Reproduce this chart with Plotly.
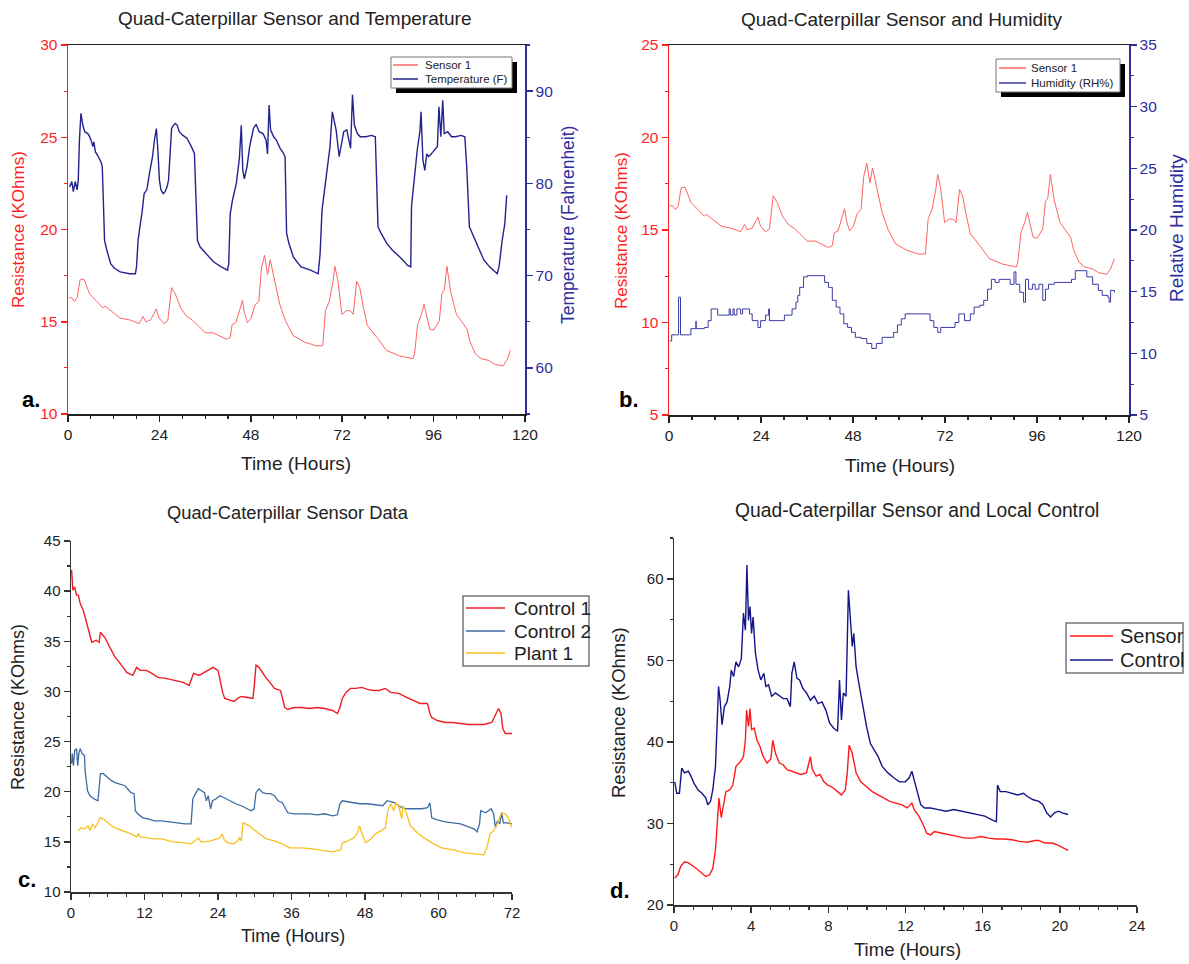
import plotly.graph_objects as go

# ---------------- DATA ----------------
# Sensor 1 resistance (KOhms) vs time (hours) -- panels a and b
sensor1 = [(0.2,16.3),(1.0,16.3),(1.7,16.1),(2.4,16.3),(3.2,17.3),(4.2,17.3),(5.7,16.5),(7.2,16.2),
 (9.2,15.75),(9.7,15.85),(11.2,15.6),(13.7,15.2),(16.2,15.1),(18.2,14.95),(18.7,14.9),(19.7,15.3),
 (20.4,15.0),(21.7,15.1),(23.2,15.7),(23.9,15.2),(25.2,14.9),(26.2,15.05),(27.2,16.85),(28.2,16.5),
 (29.6,15.75),(31.1,15.3),(32.6,15.1),(34.1,14.8),(36.1,14.4),(38.1,14.4),(40.1,14.2),(41.6,14.05),
 (42.6,14.15),(43.1,14.85),(44.1,14.95),(45.1,15.6),(45.8,16.15),(46.3,15.5),(47.1,14.95),(48.1,15.2),
 (49.1,15.9),(50.1,16.1),(50.8,17.9),(51.6,18.6),(52.4,17.55),(53.1,18.35),(54.1,17.4),(55.6,15.95),
 (57.1,15.05),(59.1,14.25),(62.1,13.9),(65.1,13.7),(66.9,13.7),(67.6,15.6),(68.6,16.1),(69.6,17.2),
 (70.1,18.0),(70.9,17.2),(71.9,15.4),(73.1,15.6),(74.1,15.6),(74.9,15.4),(75.8,17.2),(76.6,16.85),
 (77.6,15.75),(78.6,14.8),(81.1,14.15),(83.6,13.45),(87.1,13.15),(90.6,13.0),(91.0,13.25),(91.8,14.85),
 (92.8,15.4),(93.5,15.95),(94.0,15.5),(95.0,14.6),(96.0,14.55),(97.5,15.05),(98.2,16.55),(98.8,16.7),
 (99.5,18.0),(100.5,16.6),(102.0,15.4),(103.5,14.95),(104.8,14.6),(105.5,13.95),(107.0,13.25),
 (108.5,13.0),(110.5,12.9),(112.0,12.7),(114.2,12.6),(115.2,12.9),(116.2,13.45)]

# Temperature (F) -- panel a
temperature = [(0.4,79.6),(1.0,80.2),(1.4,79.1),(1.9,80.2),(2.4,79.3),(2.7,80.35),(3.0,84.7),(3.4,87.6),
 (3.9,86.3),(4.4,85.6),(5.2,85.4),(5.7,85.05),(6.2,84.5),(6.5,84.0),(6.8,84.5),(7.2,83.4),(7.7,83.1),
 (8.2,82.7),(8.7,82.3),(9.0,81.8),(9.2,78.2),(9.6,73.8),(10.2,72.75),(11.2,71.3),(12.2,70.8),(13.7,70.4),
 (16.2,70.2),(17.7,70.2),(18.0,71.0),(18.4,73.8),(19.0,75.65),(19.4,76.7),(20.0,78.9),(20.7,79.3),
 (21.4,81.1),(22.2,82.9),(22.7,84.7),(23.2,85.95),(23.6,83.6),(24.0,80.35),(24.4,79.3),(25.0,78.9),
 (25.5,79.1),(26.0,79.6),(26.4,80.35),(26.8,83.6),(27.2,85.95),(27.7,86.3),(28.2,86.5),(28.7,86.3),
 (29.2,85.6),(30.2,85.2),(31.2,84.9),(32.2,84.15),(32.7,83.6),(33.2,83.25),(33.5,79.6),(34.0,73.8),
 (34.7,73.1),(36.2,72.4),(38.2,71.5),(40.2,70.95),(41.9,70.6),(42.2,71.3),(42.6,76.7),(43.2,78.2),
 (44.2,80.0),(45.0,82.7),(45.5,86.3),(45.9,81.4),(46.3,80.5),(47.0,81.8),(47.7,84.0),(48.7,85.95),
 (49.4,86.4),(50.2,85.6),(51.2,85.4),(52.0,84.7),(52.4,83.2),(52.8,88.5),(53.2,85.8),(54.0,85.05),
 (54.7,84.7),(55.7,83.8),(56.4,83.4),(57.0,82.9),(57.4,74.6),(58.0,73.5),(59.2,72.0),(61.2,70.95),
 (63.7,70.6),(65.7,70.2),(66.2,72.4),(66.7,77.1),(67.4,79.6),(68.2,81.8),(68.8,84.0),(69.4,87.75),
 (69.9,86.85),(70.4,85.8),(70.9,84.0),(71.2,82.9),(71.7,84.0),(72.4,85.6),(73.2,85.8),(73.7,84.7),
 (74.2,83.8),(74.7,89.6),(75.2,86.3),(76.0,85.4),(76.7,85.05),(78.2,85.05),(79.7,85.2),(80.7,85.05),
 (81.0,79.6),(81.4,75.3),(82.2,74.6),(83.7,73.5),(85.2,72.75),(87.2,72.0),(89.2,71.1),(90.0,70.95),
 (90.2,77.5),(90.7,79.6),(91.2,81.8),(91.7,83.6),(92.4,85.6),(92.7,87.75),(93.2,82.5),(93.7,81.4),
 (94.2,83.2),(94.7,82.9),(95.4,83.2),(96.2,83.6),(97.0,84.0),(97.4,88.3),(97.9,85.05),(98.4,89.0),
 (98.8,85.4),(99.7,85.6),(100.7,85.05),(101.7,85.05),(103.2,85.2),(104.2,85.05),(104.7,81.8),
 (105.4,75.3),(106.2,74.6),(107.7,73.1),(109.2,71.7),(110.7,70.95),(112.7,70.2),(113.2,71.0),
 (114.0,73.8),(114.7,75.65),(115.2,78.7)]

# Relative humidity (RH%) -- panel b (step data)
humidity = [(0.2,11.0),(0.7,11.5),(2.0,11.5),(2.5,14.55),(3.0,11.5),(5.7,12.0),(7.0,12.6),(7.1,12.0),
 (9.2,12.1),(10.2,12.65),(11.0,13.6),(12.7,13.1),(15.7,13.6),(16.0,13.1),(16.7,13.6),(17.0,13.1),
 (17.7,13.6),(18.7,13.2),(19.2,13.6),(21.0,13.2),(21.7,12.65),(23.2,12.1),(23.9,12.65),(25.2,13.1),
 (26.0,13.6),(26.2,12.65),(30.1,13.1),(32.1,13.6),(33.1,14.15),(33.6,14.7),(34.1,15.35),(35.1,16.2),
 (36.1,16.3),(40.6,15.75),(41.6,15.35),(42.6,14.3),(43.6,13.75),(44.6,13.2),(45.6,12.4),(46.6,12.1),
 (47.6,11.7),(48.6,11.3),(50.1,11.2),(51.6,10.8),(52.9,10.4),(54.1,10.8),(55.6,11.3),(58.6,11.7),
 (59.6,12.3),(60.6,12.8),(61.6,13.2),(67.1,13.2),(68.1,12.65),(69.1,12.1),(70.1,11.7),(70.9,12.1),
 (74.6,12.5),(75.6,13.2),(77.1,12.65),(78.6,13.2),(79.6,13.75),(81.1,13.9),(82.1,14.3),(83.1,15.2),
 (84.1,16.0),(85.1,15.75),(86.1,16.0),(89.0,15.6),(90.0,16.6),(90.5,15.6),(91.5,14.95),(92.5,14.15),
 (93.0,16.0),(93.8,15.2),(94.8,15.6),(95.5,15.2),(96.5,15.6),(97.5,14.3),(98.2,15.2),(99.0,15.6),
 (100.5,15.75),(105.0,16.0),(106.0,16.7),(109.0,16.2),(110.5,15.6),(112.0,15.1),(113.0,14.7),
 (114.5,14.55),(114.8,14.15),(115.2,15.1),(116.2,14.95)]

# Panel c: Control 1, Control 2, Plant 1 (KOhms vs hours)
control1 = [(0.1,42.1),(0.3,40.1),(0.6,40.4),(0.9,39.6),(1.2,39.6),(1.5,38.8),(2.0,38.1),(2.3,37.4),
 (2.7,36.4),(3.1,35.4),(3.4,34.9),(4.1,35.1),(4.6,34.9),(4.8,35.9),(5.2,35.6),(5.5,35.4),(6.0,34.8),
 (6.6,34.1),(7.2,33.4),(7.9,32.9),(8.5,32.4),(9.1,31.9),(10.1,31.6),(10.7,32.4),(11.3,32.1),(12.3,32.1),
 (13.2,31.8),(14.2,31.4),(15.5,31.3),(16.7,31.1),(18.3,30.9),(19.3,30.6),(19.6,31.1),(20.0,31.8),
 (20.9,31.6),(21.8,31.9),(22.8,32.3),(23.2,32.4),(24.0,32.1),(24.3,31.1),(24.8,29.8),(25.1,29.3),
 (25.9,29.1),(26.6,29.0),(27.2,29.3),(27.8,29.5),(28.8,29.4),(29.7,29.3),(29.9,30.4),(30.2,32.6),
 (30.7,32.4),(31.3,31.8),(31.9,31.3),(32.6,30.8),(33.2,30.3),(34.2,30.1),(34.5,29.4),(34.9,28.4),
 (35.4,28.2),(36.4,28.4),(37.6,28.4),(38.9,28.3),(40.2,28.4),(41.4,28.3),(42.7,28.1),(43.5,27.8),
 (43.9,28.4),(44.3,29.3),(44.9,29.9),(45.6,30.3),(46.5,30.3),(47.5,30.4),(48.4,30.2),(49.4,30.1),
 (50.3,30.1),(51.3,30.3),(52.2,29.9),(53.5,29.8),(54.8,29.4),(56.0,29.1),(57.0,28.8),(58.2,28.8),
 (58.6,27.8),(58.9,27.4),(59.8,27.1),(61.1,26.9),(62.4,26.9),(63.6,26.8),(64.9,26.7),(66.2,26.7),
 (67.4,26.7),(68.7,26.9),(69.3,27.6),(69.8,28.3),(70.2,27.8),(70.5,26.3),(70.9,25.8),(72.0,25.8)]

control2 = [(0.1,22.8),(0.2,23.8),(0.4,22.6),(0.6,24.1),(0.9,24.3),(1.1,22.6),(1.3,23.9),(1.5,24.3),
 (1.8,23.8),(2.2,23.6),(2.3,22.1),(2.7,20.1),(3.1,19.6),(3.7,19.3),(4.4,19.1),(4.6,20.4),(4.8,21.8),
 (5.3,21.8),(6.0,21.4),(6.6,21.1),(7.2,20.9),(7.9,20.8),(8.8,20.6),(9.8,19.9),(10.3,19.8),(10.5,18.1),
 (10.9,17.8),(11.7,17.4),(12.6,17.3),(13.6,17.1),(14.8,17.1),(16.1,17.0),(17.4,16.9),(18.6,16.8),
 (19.6,16.8),(19.9,19.3),(20.4,19.9),(20.8,20.3),(21.3,20.1),(21.8,19.9),(22.1,19.1),(22.4,19.6),
 (22.8,18.3),(23.1,19.1),(23.7,19.3),(24.3,19.6),(25.0,19.4),(25.9,19.1),(26.9,18.8),(27.8,18.6),
 (28.8,18.3),(29.4,18.1),(29.9,18.3),(30.2,19.9),(30.7,20.3),(31.3,19.9),(31.9,19.8),(32.6,19.8),
 (33.2,19.6),(33.8,19.1),(34.5,18.9),(35.1,18.3),(35.4,17.9),(36.4,17.8),(37.6,17.8),(38.9,17.8),
 (40.2,17.7),(41.4,17.8),(42.7,17.6),(43.5,17.7),(43.9,18.8),(44.3,19.1),(45.2,19.0),(46.2,18.9),
 (47.1,18.8),(48.4,18.8),(49.7,18.7),(50.9,18.6),(51.6,19.1),(52.2,19.0),(52.9,18.9),(53.5,18.6),
 (54.1,18.4),(54.8,18.3),(56.0,18.3),(57.3,18.3),(58.2,18.4),(58.6,18.9),(58.9,17.4),(59.8,17.2),
 (61.1,17.0),(62.4,16.9),(63.6,16.8),(64.9,16.5),(65.8,16.3),(66.3,16.0),(66.7,16.8),(66.9,18.1),
 (67.7,17.9),(68.6,18.3),(69.0,17.8),(69.3,16.4),(69.6,17.1),(70.0,16.8),(70.3,17.9),(70.6,16.9),
 (71.2,16.9),(72.0,16.8)]

plant1 = [(1.2,16.1),(1.6,16.4),(2.2,16.3),(2.8,16.6),(3.1,16.1),(3.5,16.8),(3.9,16.4),(4.4,16.9),
 (4.7,17.4),(5.3,17.3),(6.0,16.9),(6.6,16.6),(7.2,16.4),(8.5,16.1),(9.8,15.8),(10.7,15.5),(11.0,15.8),
 (11.3,15.5),(12.3,15.4),(13.6,15.3),(14.8,15.3),(16.7,15.0),(18.6,14.9),(19.6,14.8),(20.2,15.1),
 (20.8,15.4),(21.2,15.0),(21.8,15.0),(22.8,15.1),(23.7,15.3),(24.3,15.4),(24.7,15.8),(25.0,15.2),
 (25.6,14.9),(26.6,14.8),(27.2,15.1),(27.5,15.4),(27.8,15.1),(28.1,16.9),(28.5,16.8),(29.1,16.6),
 (29.7,16.3),(30.7,15.8),(31.9,15.3),(33.2,15.1),(34.5,14.8),(35.7,14.4),(37.6,14.4),(39.5,14.3),
 (41.4,14.1),(42.7,14.0),(44.0,14.2),(44.3,14.9),(45.2,15.1),(46.2,15.4),(46.8,15.9),(47.1,16.6),
 (47.5,15.8),(48.1,14.9),(49.0,15.3),(49.7,15.8),(50.6,16.1),(51.3,16.4),(51.8,18.3),(52.2,18.8),
 (52.7,18.1),(53.0,18.9),(53.5,18.6),(54.0,17.3),(54.2,18.6),(54.8,17.8),(55.4,16.6),(56.7,15.8),
 (57.9,15.3),(59.2,14.8),(60.5,14.4),(62.4,14.2),(64.3,13.9),(66.2,13.8),(67.4,13.7),(67.9,14.4),
 (68.4,15.8),(69.0,16.1),(69.6,16.8),(70.3,17.9),(70.9,17.8),(71.4,17.4),(71.7,16.8),(72.0,16.4)]

# Panel d: Sensor and Control (KOhms vs hours)
control_d = [(0.04,35.1),(0.14,33.7),(0.28,33.7),(0.4,36.8),(0.54,36.2),(0.74,36.4),(0.88,35.8),
 (1.04,34.9),(1.25,34.1),(1.45,33.7),(1.65,33.1),(1.75,32.3),(1.89,32.7),(2.01,34.1),(2.15,37.0),
 (2.25,42.7),(2.31,46.8),(2.39,45.1),(2.49,42.1),(2.61,44.3),(2.75,44.9),(2.89,46.8),(2.97,48.8),
 (3.09,48.0),(3.21,49.8),(3.35,49.2),(3.49,50.2),(3.6,55.8),(3.7,53.7),(3.78,61.7),(3.86,54.9),
 (3.94,56.6),(4.02,53.3),(4.1,55.3),(4.22,50.9),(4.36,48.8),(4.5,47.6),(4.66,48.4),(4.76,46.8),
 (4.9,47.0),(5.06,45.6),(5.26,46.0),(5.46,45.6),(5.66,45.3),(5.86,45.3),(6.03,44.3),(6.11,48.4),
 (6.23,49.8),(6.37,47.8),(6.51,47.6),(6.67,46.6),(6.87,46.0),(7.07,45.1),(7.27,45.6),(7.47,44.7),
 (7.67,44.9),(7.87,43.9),(8.07,42.3),(8.27,41.7),(8.48,41.3),(8.58,47.6),(8.68,42.7),(8.78,46.0),
 (8.92,45.6),(9.04,58.6),(9.12,55.8),(9.24,51.7),(9.32,53.3),(9.44,49.2),(9.58,47.2),(9.78,44.3),
 (9.98,41.9),(10.18,39.8),(10.38,39.0),(10.58,38.2),(10.79,37.0),(11.09,36.2),(11.39,35.6),
 (11.69,35.1),(11.99,35.1),(12.19,35.6),(12.33,36.4),(12.45,35.3),(12.59,33.9),(12.79,32.3),
 (12.99,31.9),(13.3,31.9),(13.7,31.7),(14.1,31.5),(14.5,31.7),(14.9,31.5),(15.3,31.3),(15.71,31.1),
 (16.11,30.9),(16.51,30.4),(16.71,30.2),(16.77,34.7),(16.91,33.9),(17.21,33.9),(17.51,33.7),
 (17.81,33.5),(18.12,33.7),(18.32,33.3),(18.62,32.9),(18.92,32.7),(19.12,32.3),(19.32,31.3),
 (19.52,30.8),(19.72,31.3),(19.92,31.5),(20.12,31.3),(20.43,31.1)]

sensor_d = [(0.04,23.3),(0.2,23.7),(0.34,24.7),(0.54,25.3),(0.74,25.2),(0.94,24.9),(1.14,24.5),
 (1.45,23.9),(1.65,23.5),(1.85,23.7),(2.01,24.5),(2.15,26.8),(2.25,30.9),(2.33,33.1),(2.45,30.7),
 (2.55,32.1),(2.69,33.9),(2.89,34.1),(3.05,34.7),(3.21,37.0),(3.45,37.6),(3.6,38.2),(3.7,40.2),
 (3.76,43.9),(3.86,41.9),(3.94,44.1),(4.02,41.5),(4.16,41.7),(4.3,40.2),(4.46,39.4),(4.62,38.2),
 (4.82,37.4),(5.02,37.9),(5.12,40.2),(5.26,38.6),(5.46,37.4),(5.66,37.2),(5.86,36.6),(6.07,36.4),
 (6.27,36.2),(6.57,36.0),(6.87,36.2),(7.07,38.2),(7.17,36.6),(7.37,35.8),(7.57,36.0),(7.77,35.1),
 (7.97,34.7),(8.17,34.5),(8.48,33.9),(8.68,33.5),(8.88,34.1),(8.98,36.2),(9.08,39.6),(9.24,38.6),
 (9.44,36.2),(9.68,35.1),(9.98,34.5),(10.28,33.9),(10.58,33.5),(10.89,33.1),(11.19,32.7),(11.49,32.5),
 (11.79,32.3),(12.09,31.9),(12.33,32.5),(12.45,31.7),(12.69,30.9),(12.89,30.0),(13.1,28.8),(13.3,28.6),
 (13.5,29.0),(13.9,28.8),(14.3,28.6),(14.7,28.4),(15.1,28.2),(15.5,28.2),(15.91,28.4),(16.31,28.2),
 (16.71,28.1),(17.11,28.1),(17.51,28.0),(17.92,27.8),(18.32,27.7),(18.72,27.9),(18.92,27.9),
 (19.22,27.6),(19.62,27.6),(19.92,27.3),(20.22,26.9),(20.43,26.7)]

titles = ["Quad-Caterpillar Sensor and Temperature", "Quad-Caterpillar Sensor and Humidity",
          "Quad-Caterpillar Sensor Data", "Quad-Caterpillar Sensor and Local Control"]
panel_letters = ["a.", "b.", "c.", "d."]

# ---------------- FIGURE ----------------
W, H = 1189, 964
FONT = "Liberation Sans, Arial, sans-serif"
RED_AX = "#FF1F1F"
BLUE_AX = "#2E2E9E"
C_SENSOR1 = "#FF6464"
C_TEMP = "#23238F"
C_HUM = "#3A3AA6"
C_CTRL1 = "#EE1C25"
C_CTRL2 = "#3E6BA3"
C_PLANT = "#F8C123"
C_SENS_D = "#FF1A1A"
C_CTRL_D = "#14148A"


def xs(d):
    return [p[0] for p in d]


def ys(d):
    return [p[1] for p in d]


def px(x):
    return x / W


def py(y):
    return 1 - y / H


fig = go.Figure()

series = [
    (sensor1, "Sensor 1", C_SENSOR1, 1.0, "x", "y", "linear"),
    (temperature, "Temperature (F)", C_TEMP, 1.4, "x", "y2", "linear"),
    (sensor1, "Sensor 1", C_SENSOR1, 1.0, "x2", "y3", "linear"),
    (humidity, "Humidity (RH%)", C_HUM, 1.0, "x2", "y4", "hv"),
    (control1, "Control 1", C_CTRL1, 1.4, "x3", "y5", "linear"),
    (control2, "Control 2", C_CTRL2, 1.3, "x3", "y5", "linear"),
    (plant1, "Plant 1", C_PLANT, 1.3, "x3", "y5", "linear"),
    (sensor_d, "Sensor", C_SENS_D, 1.4, "x4", "y6", "linear"),
    (control_d, "Control", C_CTRL_D, 1.4, "x4", "y6", "linear"),
]
for d, name, c, w, xa, ya, shp in series:
    fig.add_trace(go.Scatter(x=xs(d), y=ys(d), mode="lines", name=name, showlegend=False,
                             line=dict(color=c, width=w, shape=shp), xaxis=xa, yaxis=ya))


def xax(domain, rng, dtick, minor, mirror, anchor, color="#222", tsize=15.5):
    return dict(domain=domain, range=rng, dtick=dtick, tick0=0, showgrid=False, zeroline=False,
                automargin=False, anchor=anchor,
                showline=True, linecolor=color, linewidth=1.5, mirror=mirror,
                ticks="outside", ticklen=6, tickwidth=1.5, tickcolor=color,
                tickfont=dict(family=FONT, size=tsize, color="#222"),
                minor=dict(dtick=minor, ticks="outside", ticklen=3, tickcolor=color, tickwidth=1.2))


def yax(domain, rng, dtick, tick0, minor, color, fcolor, anchor, side="left", overlaying=None, tsize=15.5):
    d = dict(domain=domain, range=rng, dtick=dtick, tick0=tick0, showgrid=False, zeroline=False,
             automargin=False,
             showline=True, linecolor=color, linewidth=1.5, anchor=anchor, side=side,
             ticks="outside", ticklen=6, tickwidth=1.5, tickcolor=color,
             tickfont=dict(family=FONT, size=tsize, color=fcolor),
             minor=dict(dtick=minor, tick0=tick0, ticks="outside", ticklen=3, tickcolor=color, tickwidth=1.2))
    if overlaying:
        d["overlaying"] = overlaying
    return d


# domains (reference pixel positions)
ax_a = [px(68), px(525)]; ay_a = [py(414), py(45)]
ax_b = [px(669), px(1129)]; ay_b = [py(415), py(45)]
ax_c = [px(71), px(512)]; ay_c = [py(892), py(541)]
ax_d = [px(674), px(1137)]; ay_d = [py(905), py(538)]

fig.update_layout(
    width=W, height=H, autosize=False, margin=dict(l=0, r=0, t=0, b=0, pad=0),
    paper_bgcolor="white", plot_bgcolor="white", showlegend=False,
    font=dict(family=FONT, color="#222"),
    xaxis=xax(ax_a, [0, 120], 24, 6, True, "y"),
    yaxis=yax(ay_a, [10, 30], 5, 10, 2.5, RED_AX, RED_AX, "x"),
    yaxis2=yax(ay_a, [55, 95], 10, 60, 5, BLUE_AX, BLUE_AX, "x", side="right", overlaying="y"),
    xaxis2=xax(ax_b, [0, 120], 24, 6, True, "y3"),
    yaxis3=yax(ay_b, [5, 25], 5, 5, 2.5, RED_AX, RED_AX, "x2"),
    yaxis4=yax(ay_b, [5, 35], 5, 5, 2.5, BLUE_AX, BLUE_AX, "x2", side="right", overlaying="y3"),
    xaxis3=xax(ax_c, [0, 72], 12, 3, False, "y5", color="#333", tsize=15),
    yaxis5=yax(ay_c, [10, 45], 5, 10, 2.5, "#333", "#222", "x3", tsize=15),
    xaxis4=xax(ax_d, [0, 24], 4, 1, False, "y6", color="#333", tsize=15),
    yaxis6=yax(ay_d, [20, 65], 10, 20, 5, "#333", "#222", "x4", tsize=15),
)

ann = []
shapes = []
# panel titles
for t, (cx, cy, s) in zip(titles, [(294, 18, 19), (902, 19, 19), (288, 512, 18.3), (917, 510, 19.3)]):
    ann.append(dict(text=t, x=px(cx), y=py(cy), xref="paper", yref="paper", showarrow=False,
                    xanchor="center", yanchor="middle", font=dict(family=FONT, size=s, color="#222")))
# x axis titles
for (cx, cy, s) in [(296, 463, 19), (900, 465, 19), (293, 936, 18), (907, 949, 18.5)]:
    ann.append(dict(text="Time (Hours)", x=px(cx), y=py(cy), xref="paper", yref="paper", showarrow=False,
                    xanchor="center", yanchor="middle", font=dict(family=FONT, size=s, color="#222")))
# y axis titles
ytitles = [("Resistance (KOhms)", 18, 230, RED_AX, 17), ("Temperature (Fahrenheit)", 568, 225, BLUE_AX, 17.5),
           ("Resistance (KOhms)", 621, 230, RED_AX, 17), ("Relative Humidity", 1176, 228, BLUE_AX, 19),
           ("Resistance (KOhms)", 18, 707, "#222", 18), ("Resistance (KOhms)", 618, 713, "#222", 18.5)]
for (t, cx, cy, c, s) in ytitles:
    ann.append(dict(text=t, x=px(cx), y=py(cy), xref="paper", yref="paper", showarrow=False, textangle=-90,
                    xanchor="center", yanchor="middle", font=dict(family=FONT, size=s, color=c)))
# panel letters
for t, (cx, cy) in zip(panel_letters, [(31, 399), (629, 399), (27, 879), (620, 890)]):
    ann.append(dict(text="<b>" + t + "</b>", x=px(cx), y=py(cy), xref="paper", yref="paper", showarrow=False,
                    xanchor="center", yanchor="middle", font=dict(family=FONT, size=22, color="black")))

# legend boxes: (box x0, x1, y0, y1, shadow, sample x0, x1, text x, font size, [(label, color, y)])
legends = [
    (391, 512, 57, 88, True, 393, 418, 423, 11.5, [("Sensor 1", C_SENSOR1, 65), ("Temperature (F)", C_TEMP, 79)]),
    (996, 1120, 59, 92, True, 999, 1026, 1029, 11.5, [("Sensor 1", C_SENSOR1, 68), ("Humidity (RH%)", C_HUM, 83)]),
    (463, 589, 596, 666, False, 466, 505, 512, 19, [("Control 1", C_CTRL1, 608), ("Control 2", C_CTRL2, 631),
                                                   ("Plant 1", C_PLANT, 653)]),
    (1066, 1183, 623, 673, False, 1070, 1113, 1118, 20, [("Sensor", C_SENS_D, 636), ("Control", C_CTRL_D, 660)]),
]
for (x0, x1, y0, y1, shadow, sx0, sx1, tx, fs, items) in legends:
    if shadow:
        shapes.append(dict(type="rect", xref="paper", yref="paper", x0=px(x0 + 5), x1=px(x1 + 5),
                           y0=py(y1 + 5), y1=py(y0 + 5), fillcolor="black", line=dict(width=0), layer="above"))
    shapes.append(dict(type="rect", xref="paper", yref="paper", x0=px(x0), x1=px(x1), y0=py(y1), y1=py(y0),
                       fillcolor="white", line=dict(color="#777", width=1.5 if not shadow else 1), layer="above"))
    for (lab, c, yy) in items:
        shapes.append(dict(type="line", xref="paper", yref="paper", x0=px(sx0), x1=px(sx1), y0=py(yy), y1=py(yy),
                           line=dict(color=c, width=1.5), layer="above"))
        ann.append(dict(text=lab, x=px(tx), y=py(yy), xref="paper", yref="paper", showarrow=False,
                        xanchor="left", yanchor="middle", font=dict(family=FONT, size=fs, color="#222")))

fig.update_layout(annotations=ann, shapes=shapes)

# remove the page's default 8px body margin so the figure sits at the window's top-left corner
fig.write_html("out.html", config={"displayModeBar": False, "staticPlot": True},
               post_script="document.body.style.margin='0';document.body.style.overflow='hidden';")
